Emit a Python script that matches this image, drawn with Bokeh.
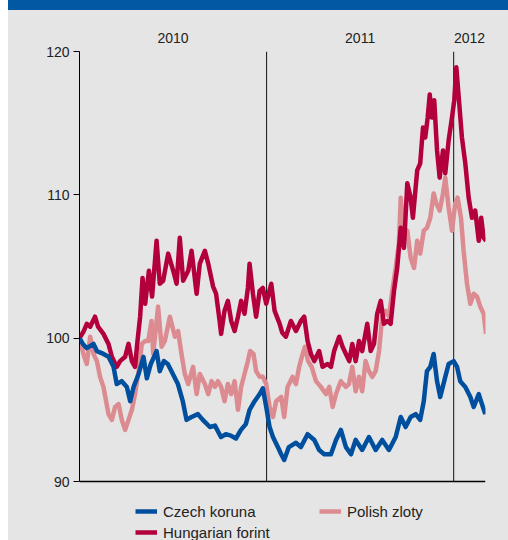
from bokeh.plotting import figure
from bokeh.models import Range1d, FixedTicker, LinearAxis, Legend, LegendItem
from bokeh.embed import file_html
from bokeh.resources import INLINE

# ---- data (index, start of 2010 = 100); x = decimal year ----
year_labels = ["2010", "2011", "2012"]
year_starts = [2010.0, 2011.0, 2012.0]
x_last = 2012.17
y_ticks = [90, 100, 110, 120]

czech_koruna = [
    (2010.000, 100.0), (2010.018, 99.6), (2010.039, 99.3), (2010.075, 99.6), (2010.093, 99.1),
    (2010.128, 98.9), (2010.155, 98.7), (2010.182, 98.0), (2010.199, 96.8), (2010.226, 97.0),
    (2010.253, 96.6), (2010.271, 95.6), (2010.289, 96.6), (2010.316, 97.5), (2010.342, 98.7),
    (2010.360, 97.2), (2010.381, 98.2), (2010.412, 99.1), (2010.429, 97.7), (2010.451, 98.4),
    (2010.472, 98.2), (2010.499, 97.5), (2010.526, 96.8), (2010.552, 95.6), (2010.572, 94.3),
    (2010.599, 94.5), (2010.633, 94.7), (2010.659, 94.3), (2010.697, 93.8), (2010.724, 93.9),
    (2010.756, 93.1), (2010.782, 93.3), (2010.809, 93.2), (2010.836, 93.0), (2010.863, 93.6),
    (2010.889, 94.0), (2010.909, 95.0), (2010.936, 95.6), (2010.963, 96.1), (2010.980, 96.5),
    (2010.998, 95.2), (2011.016, 93.8), (2011.034, 93.1), (2011.060, 92.4), (2011.078, 91.9),
    (2011.094, 91.5), (2011.119, 92.4), (2011.157, 92.7), (2011.183, 92.4), (2011.219, 93.3),
    (2011.255, 92.9), (2011.281, 92.2), (2011.308, 91.9), (2011.344, 91.9), (2011.371, 92.9),
    (2011.397, 93.6), (2011.424, 92.4), (2011.451, 91.9), (2011.476, 92.9), (2011.511, 92.2),
    (2011.547, 93.1), (2011.583, 92.2), (2011.618, 92.9), (2011.654, 92.2), (2011.690, 93.1),
    (2011.717, 94.5), (2011.743, 93.8), (2011.770, 94.5), (2011.797, 94.7), (2011.821, 94.3),
    (2011.840, 95.6), (2011.857, 97.7), (2011.875, 98.0), (2011.893, 98.9), (2011.911, 97.0),
    (2011.928, 95.9), (2011.955, 97.3), (2011.973, 98.2), (2012.000, 98.4), (2012.018, 98.0),
    (2012.035, 97.0), (2012.062, 96.6), (2012.089, 95.9), (2012.107, 95.2), (2012.134, 96.1),
    (2012.151, 95.4), (2012.169, 94.7),
]

hungarian_forint = [
    (2010.000, 100.0), (2010.023, 100.5), (2010.039, 101.0), (2010.057, 100.8), (2010.083, 101.5),
    (2010.099, 100.8), (2010.128, 100.3), (2010.155, 99.6), (2010.173, 98.7), (2010.199, 98.0),
    (2010.217, 98.4), (2010.244, 98.7), (2010.262, 99.6), (2010.280, 98.4), (2010.297, 98.0),
    (2010.310, 99.8), (2010.324, 101.5), (2010.337, 104.2), (2010.351, 102.4), (2010.371, 104.7),
    (2010.388, 102.9), (2010.412, 106.8), (2010.429, 103.8), (2010.447, 104.0), (2010.474, 105.9),
    (2010.501, 104.7), (2010.519, 103.8), (2010.536, 107.0), (2010.554, 104.0), (2010.581, 104.7),
    (2010.599, 106.1), (2010.626, 103.1), (2010.643, 105.2), (2010.670, 106.1), (2010.688, 105.2),
    (2010.714, 103.6), (2010.730, 103.1), (2010.749, 101.2), (2010.757, 100.3), (2010.775, 101.9),
    (2010.793, 102.6), (2010.811, 101.2), (2010.829, 100.5), (2010.847, 101.5), (2010.864, 102.6),
    (2010.882, 101.7), (2010.900, 103.5), (2010.909, 105.2), (2010.927, 103.1), (2010.944, 101.5),
    (2010.963, 103.3), (2010.980, 103.5), (2010.998, 102.4), (2011.025, 103.8), (2011.043, 101.9),
    (2011.070, 101.0), (2011.083, 100.4), (2011.103, 100.1), (2011.130, 101.2), (2011.157, 100.5),
    (2011.183, 101.2), (2011.201, 101.5), (2011.219, 99.8), (2011.237, 98.9), (2011.255, 98.4),
    (2011.281, 99.1), (2011.299, 98.0), (2011.326, 98.2), (2011.344, 98.0), (2011.361, 99.1),
    (2011.388, 100.1), (2011.406, 99.4), (2011.424, 98.9), (2011.442, 98.4), (2011.458, 99.6),
    (2011.476, 98.4), (2011.494, 99.8), (2011.511, 99.1), (2011.538, 101.0), (2011.556, 99.1),
    (2011.574, 99.6), (2011.591, 101.7), (2011.610, 102.6), (2011.627, 101.0), (2011.645, 101.2),
    (2011.663, 101.0), (2011.681, 103.3), (2011.698, 104.9), (2011.717, 107.7), (2011.734, 106.3),
    (2011.752, 110.8), (2011.770, 109.8), (2011.782, 108.4), (2011.805, 111.7), (2011.821, 112.2),
    (2011.836, 114.7), (2011.848, 114.0), (2011.861, 115.4), (2011.872, 117.0), (2011.884, 115.4),
    (2011.896, 116.6), (2011.911, 113.1), (2011.925, 111.2), (2011.943, 113.1), (2011.955, 111.5),
    (2011.973, 113.8), (2011.991, 115.4), (2012.003, 116.6), (2012.014, 118.9), (2012.027, 116.8),
    (2012.044, 114.0), (2012.062, 112.2), (2012.080, 109.8), (2012.098, 108.4), (2012.115, 108.9),
    (2012.134, 106.8), (2012.147, 108.4), (2012.160, 107.0), (2012.173, 106.8),
]

polish_zloty = [
    (2010.000, 100.0), (2010.021, 98.9), (2010.039, 98.2), (2010.057, 100.1), (2010.075, 98.9),
    (2010.093, 98.4), (2010.110, 97.3), (2010.128, 96.6), (2010.155, 94.7), (2010.173, 94.3),
    (2010.190, 95.2), (2010.209, 95.4), (2010.226, 94.3), (2010.244, 93.6), (2010.262, 94.3),
    (2010.280, 95.0), (2010.297, 96.1), (2010.316, 97.7), (2010.333, 99.6), (2010.351, 99.8),
    (2010.367, 99.8), (2010.385, 101.2), (2010.394, 98.9), (2010.420, 102.2), (2010.439, 99.4),
    (2010.456, 99.8), (2010.483, 101.5), (2010.510, 100.1), (2010.527, 100.5), (2010.545, 98.9),
    (2010.563, 97.5), (2010.581, 96.8), (2010.607, 98.0), (2010.626, 96.1), (2010.643, 97.5),
    (2010.670, 96.8), (2010.688, 96.1), (2010.706, 97.0), (2010.724, 96.6), (2010.740, 97.0),
    (2010.757, 96.6), (2010.775, 95.6), (2010.793, 96.8), (2010.811, 96.1), (2010.829, 97.0),
    (2010.847, 95.0), (2010.864, 96.6), (2010.882, 97.5), (2010.900, 98.4), (2010.912, 99.1),
    (2010.930, 98.9), (2010.944, 97.7), (2010.963, 97.3), (2010.980, 97.3), (2010.998, 96.8),
    (2011.016, 95.2), (2011.034, 94.5), (2011.051, 95.6), (2011.078, 95.9), (2011.094, 94.5),
    (2011.112, 96.6), (2011.139, 97.3), (2011.157, 96.8), (2011.174, 98.0), (2011.193, 98.9),
    (2011.205, 99.4), (2011.222, 98.4), (2011.241, 98.0), (2011.264, 97.0), (2011.290, 96.6),
    (2011.317, 96.1), (2011.335, 96.6), (2011.353, 95.2), (2011.371, 96.1), (2011.397, 97.0),
    (2011.424, 96.6), (2011.440, 96.8), (2011.458, 98.0), (2011.476, 96.3), (2011.494, 97.3),
    (2011.511, 96.3), (2011.529, 98.4), (2011.547, 97.7), (2011.565, 97.3), (2011.583, 97.7),
    (2011.601, 99.1), (2011.618, 101.5), (2011.636, 101.9), (2011.654, 101.5), (2011.672, 103.3),
    (2011.690, 104.9), (2011.707, 106.6), (2011.717, 109.8), (2011.734, 107.3), (2011.752, 107.5),
    (2011.770, 105.6), (2011.788, 104.9), (2011.805, 106.8), (2011.821, 105.9), (2011.840, 107.5),
    (2011.857, 107.7), (2011.875, 108.4), (2011.893, 110.1), (2011.907, 109.4), (2011.925, 108.9),
    (2011.943, 110.1), (2011.955, 111.2), (2011.973, 109.1), (2011.991, 107.5), (2012.008, 109.4),
    (2012.021, 109.8), (2012.039, 108.4), (2012.053, 106.1), (2012.071, 103.8), (2012.089, 102.4),
    (2012.107, 103.1), (2012.125, 102.9), (2012.142, 102.2), (2012.160, 101.7), (2012.173, 100.3),
]

CZK_COLOR = "#004f9e"
HUF_COLOR = "#b3003c"
PLN_COLOR = "#dc8b90"
BG = "#e5e5e5"
HEADER = "#0059a2"
TEXT = "#222222"
FONT = "Liberation Sans"

# layout (pixels)
W, H = 500, 540
LEFT, RIGHT, TOP = 71, 23, 51
PLOT_H = 430                      # height of the 90..120 band
y_per_px = (y_ticks[-1] - y_ticks[0]) / PLOT_H
y_low = y_ticks[0] - (H - TOP - PLOT_H) * y_per_px   # frame extends down to hold the legend

p = figure(width=W, height=H, output_backend="svg", toolbar_location=None,
           x_range=Range1d(year_starts[0], x_last), y_range=Range1d(y_low, y_ticks[-1]),
           min_border_left=LEFT, min_border_right=RIGHT, min_border_top=TOP, min_border_bottom=0,
           x_axis_location=None, y_axis_location=None, margin=(0, 0, 0, 8),
           styles={"background": f"linear-gradient({HEADER} 0px, {HEADER} 10px, {BG} 10px, {BG} 100%)"})
p.background_fill_color = BG
p.border_fill_alpha = 0
p.outline_line_color = None
p.grid.visible = False

yax = LinearAxis(ticker=FixedTicker(ticks=y_ticks), bounds=(y_ticks[0], y_ticks[-1]))
yax.axis_line_color = "black"
yax.major_tick_line_color = "black"
yax.major_tick_out = 6
yax.major_tick_in = 0
yax.minor_tick_line_color = None
yax.major_label_text_font = FONT
yax.major_label_text_font_size = "14px"
yax.major_label_text_color = TEXT
yax.major_label_standoff = 4
p.add_layout(yax, "left")

mids = []
for i, s in enumerate(year_starts):
    e = year_starts[i + 1] if i + 1 < len(year_starts) else x_last
    mids.append((s + e) / 2)
tax = LinearAxis(ticker=FixedTicker(ticks=mids),
                 major_label_overrides={m: lab for m, lab in zip(mids, year_labels)})
tax.axis_line_color = None
tax.major_tick_line_color = None
tax.minor_tick_line_color = None
tax.major_label_text_font = FONT
tax.major_label_text_font_size = "14px"
tax.major_label_text_color = TEXT
tax.major_label_standoff = 3
p.add_layout(tax, "above")

# bottom axis line and year separators
p.segment(x0=[year_starts[0]], y0=[y_ticks[0]], x1=[x_last], y1=[y_ticks[0]],
          line_color="black", line_width=1.5)
p.segment(x0=year_starts[1:], y0=[y_ticks[0]] * 2, x1=year_starts[1:], y1=[y_ticks[-1]] * 2,
          line_color="#111111", line_width=1)

def xy(series):
    return [a for a, _ in series], [b for _, b in series]

x, y = xy(polish_zloty)
r_pln = p.line(x, y, line_color=PLN_COLOR, line_width=4.5, line_join="round")
x, y = xy(hungarian_forint)
r_huf = p.line(x, y, line_color=HUF_COLOR, line_width=4.5, line_join="round")
x, y = xy(czech_koruna)
r_czk = p.line(x, y, line_color=CZK_COLOR, line_width=4.5, line_join="round")

lg = Legend(items=[LegendItem(label="Czech koruna", renderers=[r_czk]),
                   LegendItem(label="Hungarian forint", renderers=[r_huf]),
                   LegendItem(label="Polish zloty", renderers=[r_pln])],
            location=(56, -2), orientation="vertical", nrows=2)
lg.background_fill_alpha = 0
lg.border_line_color = None
lg.padding = 0
lg.margin = 0
lg.spacing = 1
lg.glyph_width = 22
lg.glyph_height = 20
lg.label_height = 20
lg.label_width = 155
lg.label_standoff = 6
lg.label_text_font = FONT
lg.label_text_font_size = "15px"
lg.label_text_color = TEXT
lg.label_text_baseline = "middle"
p.add_layout(lg, "center")

open("out.html", "w").write(file_html(p, INLINE))
